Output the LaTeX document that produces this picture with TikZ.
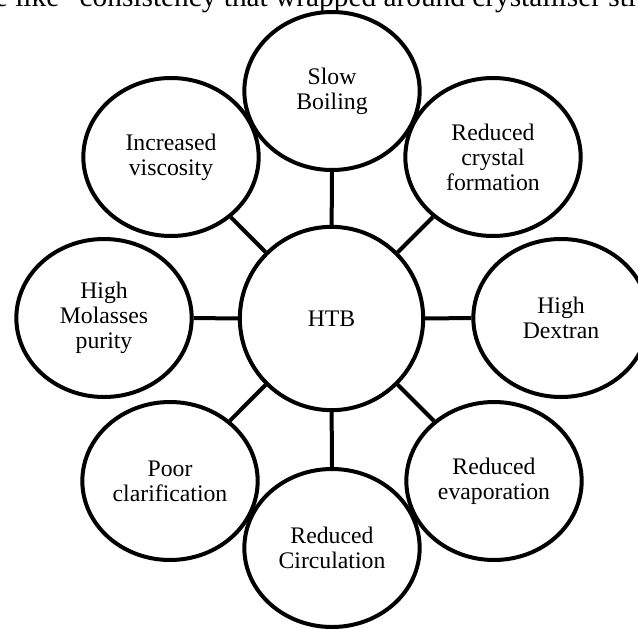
\documentclass[tikz,border=0pt]{standalone}
\usepackage{fontspec}
\setmainfont{Liberation Serif}
\usetikzlibrary{shapes.geometric}
\begin{document}
\begin{tikzpicture}[x=0.75pt,y=-0.75pt,
  outer/.style={ellipse,draw,line width=3pt,minimum width=131.5pt,minimum height=118.5pt,inner sep=0pt,align=center,font=\fontsize{17.8}{18.75}\selectfont},
  hub/.style={circle,draw,line width=3pt,minimum size=137.5pt,inner sep=0pt,font=\fontsize{17.8}{18.75}\selectfont},
  conn/.style={line width=3pt},
  toptext/.style={anchor=base west,inner sep=0pt,font=\fontsize{22}{26}\selectfont}]
\useasboundingbox (0,0) rectangle (638,628);
\begin{scope}
\clip (0,0) rectangle (638,628);
\node[toptext] (top) at (-5.3,7) {e like” consistency that wrapped around crystalliser sti};
\end{scope}
\node[hub] (htb) at (331.5,318.5) {HTB};
\node[outer] (sb) at (332,91) {Slow\\Boiling};
\node[outer] (rcf) at (493,157) {Reduced\\crystal\\formation};
\node[outer] (hd) at (561,318) {High\\Dextran};
\node[outer] (re) at (494,481) {Reduced\\evaporation};
\node[outer] (rc) at (332,548) {Reduced\\Circulation};
\node[outer] (pc) at (170,481) {Poor\\clarification};
\node[outer] (hmp) at (104,318) {High\\Molasses\\purity};
\node[outer] (iv) at (171,157) {Increased\\viscosity};
\foreach \n in {sb,rcf,hd,re,rc,pc,hmp,iv}
  \draw[conn] (htb) -- (\n);
\end{tikzpicture}
\end{document}
